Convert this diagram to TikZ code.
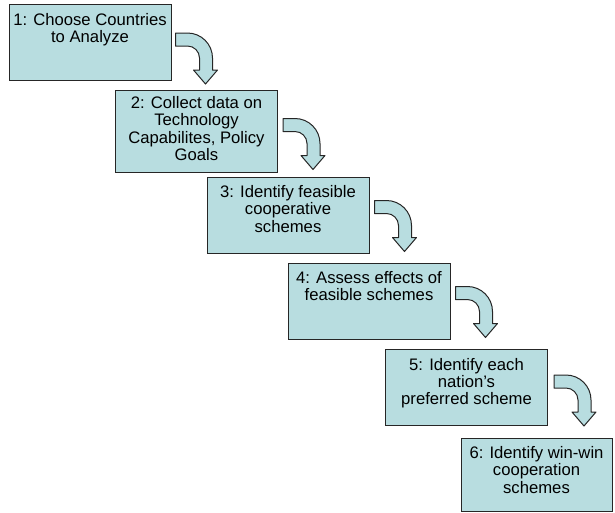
\documentclass[tikz,border=0pt]{standalone}
\usepackage{fontspec}
\setmainfont{Liberation Sans}
\usetikzlibrary{positioning, calc}
\definecolor{boxfill}{RGB}{184,221,224}

\tikzset{
  bent/.pic={
    \draw[arrowbody] (0,0) -- (12,0) .. controls (25.8,0) and (37,11.2) .. (37,25) -- (37,37) -- (42,37) -- (30,51) -- (18,37) -- (24,37) -- (24,25) .. controls (24,18.4) and (18.6,13) .. (12,13) -- (0,13) -- cycle;
  }
}

\begin{document}
\begin{tikzpicture}[
    x=0.75pt, y=-0.75pt,
    stepbox/.style={rectangle, draw=black!85, line width=0.75pt, fill=boxfill, minimum width=121.5pt, minimum height=57pt, inner sep=0pt},
    boxtext/.style={align=center, inner sep=0pt, font=\fontsize{12.5}{13}\selectfont},
    arrowbody/.style={draw=black!85, line width=0.75pt, fill=boxfill, line join=round}
  ]
  \useasboundingbox (0,0) rectangle (615,512);

  % --- Step boxes ---
  \node[stepbox] (b1) at (90,42.5) {};
  \node[stepbox, minimum height=61.5pt] (b2) at (196.5,131) {};
  \node[stepbox] (b3) at (288,215) {};
  \node[stepbox] (b4) at (369,301) {};
  \node[stepbox] (b5) at (466.5,387.5) {};
  \node[stepbox, minimum width=113.25pt, minimum height=54.75pt] (b6) at (536.5,474.5) {};

  % --- Step texts ---
  \node[boxtext, below=6.5pt of b1.north] (t1) {1: Choose Countries\\to Analyze};
  \node[boxtext, below=5pt of b2.north] (t2) {2: Collect data on\\Technology\\Capabilites, Policy\\Goals};
  \node[boxtext, below=6.5pt of b3.north] (t3) {3: Identify feasible\\cooperative\\schemes};
  \node[boxtext, below=6.5pt of b4.north] (t4) {4: Assess effects of\\feasible schemes};
  \node[boxtext, below=6.5pt of b5.north] (t5) {5: Identify each\\nation’s\\preferred scheme};
  \node[boxtext, below=6.5pt of b6.north] (t6) {6: Identify win-win\\cooperation\\schemes};

  % --- Bent arrows ---
  \pic at ($(b1.north east)+(4,29)$) {bent};
  \pic at ($(b2.north east)+(5,29)$) {bent};
  \pic at ($(b3.north east)+(5,24)$) {bent};
  \pic at ($(b4.north east)+(5,24)$) {bent};
  \pic at ($(b5.north east)+(6,26)$) {bent};
\end{tikzpicture}
\end{document}
